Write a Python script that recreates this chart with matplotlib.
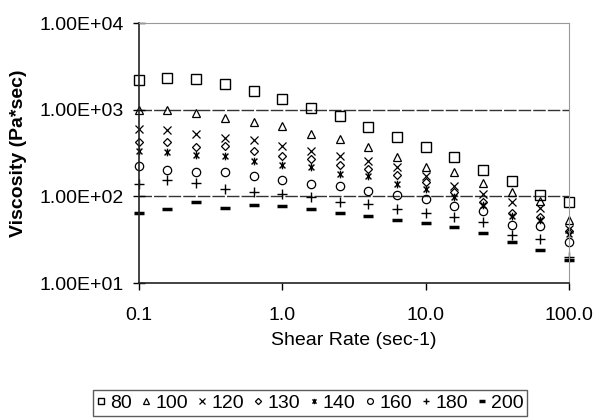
import numpy as np
import matplotlib.pyplot as plt
from matplotlib.path import Path
from matplotlib.ticker import FixedLocator, FuncFormatter, NullLocator

plt.rcParams['font.family'] = ['Liberation Sans', 'DejaVu Sans']

# shear rate (sec-1), 5 points per decade
shear = [0.1, 0.158, 0.251, 0.398, 0.631, 1.0, 1.585, 2.51, 3.98, 6.31,
         10.0, 15.85, 25.1, 39.8, 63.1, 100.0]

# viscosity (Pa*sec)
v80 = [2190, 2340, 2230, 2000, 1640, 1340, 1055, 836, 634, 485, 371, 284, 201, 151, 103, 85]
v100 = [1000, 1000, 923, 807, 725, 640, 526, 460, 368, 282, 219, 192, 144, 111, 88, 54]
v120 = [601, 578, 519, 472, 448, 381, 334, 292, 255, 217, 171, 131, 105, 85, 74, 42]
v130 = [425, 425, 371, 380, 334, 292, 269, 229, 206, 175, 145, 111, 87, 65, 58, 40]
v140 = [334, 325, 300, 292, 255, 229, 217, 180, 171, 138, 121, 97, 79, 60, 54, 37]
v160 = [223, 201, 190, 190, 171, 153, 138, 131, 114, 103, 92, 77, 67, 47, 45, 30]
v180 = [138, 153, 142, 121, 111, 105, 97, 87, 81, 72, 65, 58, 51, 36, 32, 20]
v200 = [65, 71, 85, 74, 79, 77, 71, 65, 60, 54, 49, 44, 38, 30, 24, 18.5]

labels = ['80', '100', '120', '130', '140', '160', '180', '200']
series = [v80, v100, v120, v130, v140, v160, v180, v200]

# x with a vertical bar (excel "star" marker)
star = Path([(-1, -1), (1, 1), (-1, 1), (1, -1), (0, -1.3), (0, 1.3)],
            [Path.MOVETO, Path.LINETO, Path.MOVETO, Path.LINETO, Path.MOVETO, Path.LINETO])

styles = [
    dict(marker='s', ms=6.5, mew=1.0),
    dict(marker='^', ms=6, mew=0.9),
    dict(marker='x', ms=5.5, mew=0.9),
    dict(marker='D', ms=4.5, mew=0.9),
    dict(marker=star, ms=5.5, mew=1.0),
    dict(marker='o', ms=6, mew=0.9),
    dict(marker='+', ms=6.5, mew=1.0),
    dict(marker='_', ms=7, mew=2.5),
]

fig = plt.figure(figsize=(5.95, 4.2), dpi=100)
ax = fig.add_axes([139 / 595, 1 - 283 / 420, (569 - 139) / 595, (283 - 23) / 420])

for lab, vals, st in zip(labels, series, styles):
    ax.plot(shear, vals, linestyle='none', color='black', mfc='none', mec='black',
            label=lab, clip_on=False, **st)

ax.set_xscale('log')
ax.set_yscale('log')
ax.set_xlim(0.1, 100)
ax.set_ylim(10, 10000)

ax.xaxis.set_major_locator(FixedLocator([0.1, 1, 10, 100]))
ax.xaxis.set_minor_locator(NullLocator())
ax.yaxis.set_major_locator(FixedLocator([10, 100, 1000, 10000]))
ax.yaxis.set_minor_locator(NullLocator())
ax.xaxis.set_major_formatter(FuncFormatter(lambda v, p: '{:.1f}'.format(v)))
ax.yaxis.set_major_formatter(FuncFormatter(lambda v, p: '{:.2E}'.format(v)))

for y in [100, 1000]:
    ax.axhline(y, color='#333333', lw=1.0, dashes=(9, 1.5), zorder=0)

ax.tick_params(axis='y', direction='inout', length=8, width=1, labelsize=14, pad=7)
ax.tick_params(axis='x', direction='out', length=5, width=1, labelsize=14, pad=12)

ax.spines['left'].set_color('#222222')
ax.spines['bottom'].set_color('#222222')
ax.spines['left'].set_linewidth(1.2)
ax.spines['bottom'].set_linewidth(1.2)
ax.spines['top'].set_color('#999999')
ax.spines['right'].set_color('#999999')

ax.set_xlabel('Shear Rate (sec-1)', fontsize=14, labelpad=6)
ax.set_ylabel('Viscosity (Pa*sec)', fontsize=14, fontweight='bold', labelpad=9)

leg = fig.legend(loc='center', bbox_to_anchor=(310 / 595, 1 - 403 / 420), ncol=8,
                 frameon=True, fancybox=False, fontsize=14, handlelength=0.5,
                 handletextpad=0.2, columnspacing=0.5, borderpad=0.2,
                 borderaxespad=0, markerscale=0.7)
leg.get_frame().set_edgecolor('#333333')
leg.get_frame().set_linewidth(1.0)

fig.savefig('out.png', dpi=100)
